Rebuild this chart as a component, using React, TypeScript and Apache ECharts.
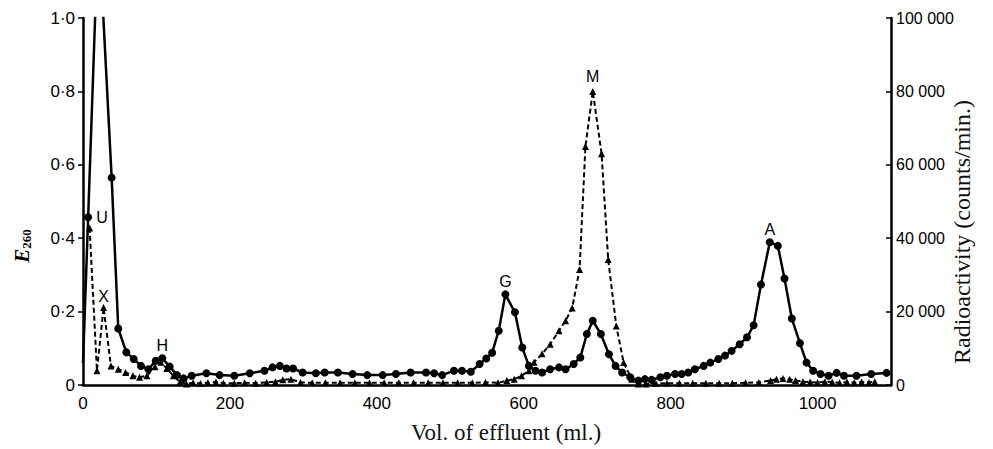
import React, { useEffect, useRef } from "react";
import * as echarts from "echarts";

// E260 (solid line, circles) — volume (ml) and extinction
const e260Vol = [0, 7, 21, 39, 48, 59, 69, 79, 89, 99, 108, 118, 128, 137, 148, 168, 186, 206, 227, 247, 258, 268, 277, 286, 299, 317, 329, 347, 367, 387, 408, 426, 446, 467, 478, 489, 505, 516, 528, 540, 549, 557, 566, 575, 588, 598, 607, 616, 625, 636, 648, 657, 668, 677, 686, 694, 705, 716, 725, 734, 745, 756, 765, 774, 786, 795, 806, 815, 824, 833, 845, 854, 865, 874, 883, 894, 904, 913, 923, 935, 946, 955, 965, 976, 985, 994, 1004, 1015, 1026, 1036, 1053, 1073, 1094];
const e260Val = [0.06, 0.457, 1.26, 0.565, 0.154, 0.089, 0.071, 0.052, 0.043, 0.066, 0.073, 0.05, 0.027, 0.018, 0.025, 0.032, 0.027, 0.025, 0.032, 0.039, 0.048, 0.052, 0.045, 0.045, 0.034, 0.032, 0.034, 0.034, 0.03, 0.027, 0.027, 0.03, 0.034, 0.034, 0.032, 0.027, 0.039, 0.039, 0.036, 0.057, 0.072, 0.088, 0.148, 0.247, 0.198, 0.102, 0.052, 0.039, 0.034, 0.043, 0.048, 0.043, 0.057, 0.075, 0.139, 0.175, 0.139, 0.084, 0.052, 0.034, 0.021, 0.012, 0.016, 0.014, 0.021, 0.025, 0.03, 0.03, 0.034, 0.043, 0.052, 0.061, 0.071, 0.08, 0.093, 0.111, 0.13, 0.163, 0.274, 0.389, 0.379, 0.29, 0.181, 0.114, 0.061, 0.039, 0.03, 0.025, 0.033, 0.025, 0.025, 0.03, 0.033];

// Radioactivity (dashed line, triangles) — volume (ml) and counts/min
const radVol = [9, 19, 28, 38, 48, 58, 68, 77, 87, 98, 106, 114, 123, 132, 141, 150, 160, 170, 181, 191, 206, 220, 235, 250, 262, 272, 283, 296, 312, 330, 350, 370, 390, 410, 430, 450, 470, 490, 510, 530, 548, 565, 577, 587, 597, 607, 614, 625, 636, 648, 657, 666, 676, 684, 694, 706, 715, 726, 736, 747, 756, 766, 780, 795, 812, 830, 848, 866, 884, 902, 920, 936, 944, 953, 962, 970, 980, 990, 1000, 1010, 1020, 1030, 1040, 1050, 1060, 1070, 1078];
const radVal = [42800, 3900, 21100, 5200, 4300, 3400, 2500, 2100, 2500, 5000, 6200, 4500, 2500, 800, 300, 600, 400, 600, 800, 500, 500, 600, 500, 700, 900, 1400, 1600, 700, 600, 600, 600, 600, 600, 600, 600, 600, 600, 600, 600, 600, 700, 600, 1200, 1600, 2500, 3900, 6200, 8500, 11100, 14800, 17500, 21000, 31500, 65000, 80000, 63000, 34200, 16100, 6100, 1600, 300, 300, 400, 500, 500, 500, 500, 500, 500, 600, 700, 1200, 1600, 1800, 1600, 1200, 900, 800, 700, 900, 800, 600, 800, 600, 800, 700, 900];

// Peak labels: [volume, label, position, distance]
const e260Peaks: [number, string, string, number][] = [
  [7, "U", "right", 4],
  [108, "H", "top", 1],
  [575, "G", "top", 1],
  [935, "A", "top", 1],
];
const radPeaks: [number, string, string, number][] = [
  [28, "X", "top", 0],
  [694, "M", "top", 3],
];

const xTicks = [0, 200, 400, 600, 800, 1000];

const tickFont = "'Liberation Sans Narrow', 'Liberation Sans', sans-serif";
const serif = "'Liberation Serif', 'DejaVu Serif', serif";

export default function App() {
  const ref = useRef<HTMLDivElement>(null);
  useEffect(() => {
    if (!ref.current) return;
    const chart = echarts.init(ref.current, undefined, { renderer: "svg" });
    const labelStyle = {
      fontFamily: "'Liberation Sans', sans-serif",
      fontSize: 16,
      color: "#000",
    };
    const e260Data = e260Vol.map((v, i) => {
      const pk = e260Peaks.find((p) => p[0] === v);
      const item: any = { value: [v, e260Val[i]] };
      if (i === 0) item.symbol = "none";
      if (pk) {
        item.label = { show: true, formatter: pk[1], position: pk[2], distance: pk[3], ...labelStyle };
      }
      return item;
    });
    const radData = radVol.map((v, i) => {
      const pk = radPeaks.find((p) => p[0] === v);
      const item: any = { value: [v, radVal[i]] };
      if (pk) {
        item.label = { show: true, formatter: pk[1], position: pk[2], distance: pk[3], ...labelStyle };
      }
      return item;
    });
    chart.setOption({
      animation: false,
      grid: { left: 83, right: 102, top: 18, bottom: 48, containLabel: false },
      graphic: [
        {
          type: "text",
          x: 22,
          y: 246,
          rotation: Math.PI / 2,
          style: {
            text: "{e|E}{s|260}",
            align: "center",
            verticalAlign: "middle",
            rich: {
              e: { fontFamily: serif, fontStyle: "italic", fontWeight: "bold", fontSize: 21, fill: "#000" },
              s: { fontFamily: serif, fontWeight: "bold", fontSize: 13, fill: "#000", padding: [9, 0, 0, 0] },
            },
          },
        },
        {
          type: "text",
          x: 962,
          y: 232,
          rotation: Math.PI / 2,
          style: {
            text: "Radioactivity (counts/min.)",
            align: "center",
            verticalAlign: "middle",
            fontFamily: serif,
            fontSize: 24,
            fill: "#111",
          },
        },
      ],
      xAxis: {
        type: "value",
        min: 0,
        max: 1100,
        interval: 200,
        axisLine: { show: true, lineStyle: { color: "#000", width: 2.5 } },
        axisTick: { show: false },
        splitLine: { show: false },
        axisLabel: {
          fontFamily: tickFont,
          fontSize: 17,
          color: "#000",
          margin: 10,
          formatter: (v: number) => (xTicks.includes(v) ? String(v) : ""),
          showMaxLabel: false,
        },
        name: "Vol. of effluent (ml.)",
        nameLocation: "middle",
        nameGap: 36,
        nameTextStyle: { fontFamily: serif, fontSize: 23, color: "#111", padding: [0, 0, 0, 38] },
      },
      yAxis: [
        {
          type: "value",
          min: 0,
          max: 1,
          interval: 0.2,
          position: "left",
          axisLine: { show: true, lineStyle: { color: "#000", width: 2.5 } },
          axisTick: { show: true, inside: false, length: 5, lineStyle: { color: "#000", width: 1.5 } },
          splitLine: { show: false },
          axisLabel: {
            fontFamily: tickFont,
            fontSize: 17,
            color: "#000",
            margin: 8,
            formatter: (v: number) => (v === 0 ? "0" : v.toFixed(1).replace(".", "·")),
          },
        },
        {
          type: "value",
          min: 0,
          max: 100000,
          interval: 20000,
          position: "right",
          axisLine: { show: true, lineStyle: { color: "#000", width: 2.5 } },
          axisTick: { show: true, inside: true, length: 5, lineStyle: { color: "#000", width: 1.5 } },
          splitLine: { show: false },
          axisLabel: {
            fontFamily: "'Liberation Sans', sans-serif",
            fontSize: 16,
            color: "#000",
            margin: 5,
            formatter: (v: number) => (v === 0 ? "0" : `${v / 1000} 000`),
          },
        },
      ],
      series: [
        {
          type: "line",
          name: "E260",
          yAxisIndex: 0,
          data: e260Data,
          symbol: "circle",
          symbolSize: 8,
          itemStyle: { color: "#000" },
          lineStyle: { color: "#000", width: 2.5 },
          clip: true,
          z: 3,
        },
        {
          type: "line",
          name: "Radioactivity",
          yAxisIndex: 1,
          data: radData,
          symbol: "triangle",
          symbolSize: 7,
          itemStyle: { color: "#000" },
          lineStyle: { color: "#000", width: 2, type: [5, 3] },
          clip: true,
          z: 2,
        },
      ],
    });
    return () => chart.dispose();
  }, []);
  return <div ref={ref} style={{ position: "absolute", left: 0, top: 0, width: 993, height: 449 }} />;
}
